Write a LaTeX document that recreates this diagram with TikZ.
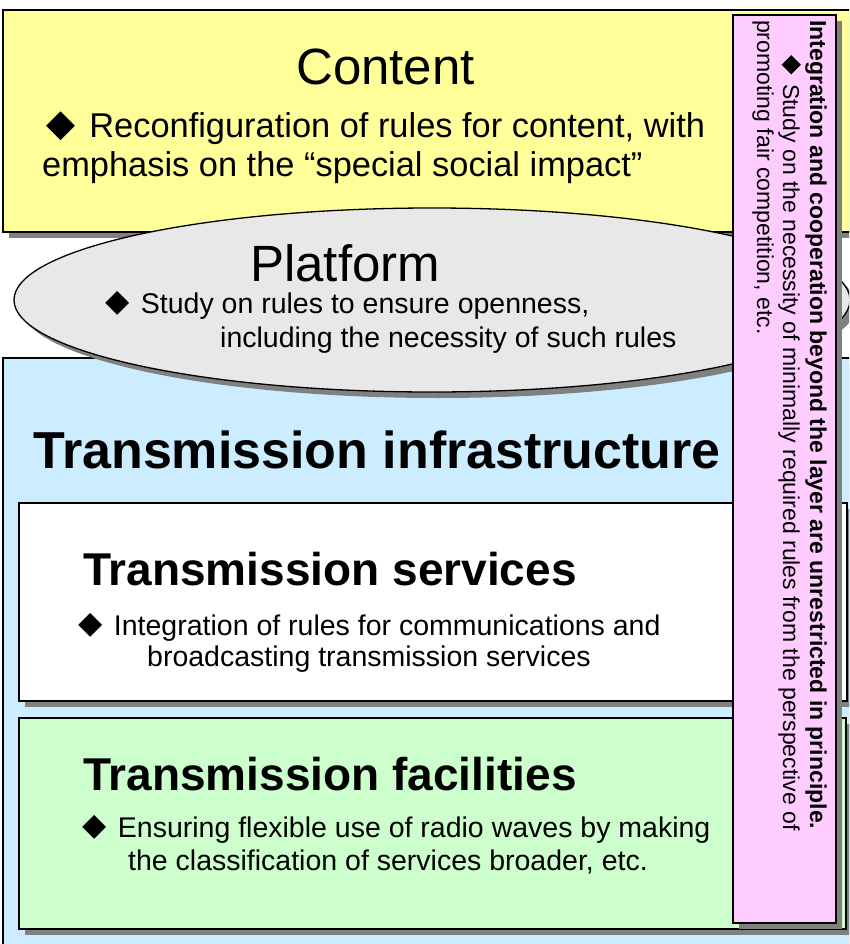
\documentclass[tikz,border=0pt]{standalone}
\usepackage{fontspec}
\setmainfont{Liberation Sans}
\usepackage{tikz}
\usetikzlibrary{shadows}

\definecolor{contentyellow}{HTML}{FFFF99}
\definecolor{platformgray}{HTML}{E8E8E8}
\definecolor{infrablue}{HTML}{CCECFF}
\definecolor{facilgreen}{HTML}{CCFFCC}
\definecolor{layerpink}{HTML}{FFCCFF}
\definecolor{shadowgray}{HTML}{808080}

\newcommand{\dmd}{\raisebox{-0.06em}{\rotatebox{45}{\rule{0.59em}{0.59em}}}\hspace{0.42em}}

\begin{document}
\begin{tikzpicture}[x=1pt,y=-1pt,
            layer/.style={draw,line width=1.3pt,drop shadow={shadow xshift=6pt,shadow yshift=-6pt,fill=shadowgray,opacity=1}},
            title/.style={inner sep=0,anchor=base west,font=\fontsize{51}{58}\selectfont},
            head/.style={title,font=\fontsize{46}{52}\selectfont\bfseries},
            item/.style={inner sep=0,anchor=base west,font=\fontsize{28.5}{33}\selectfont},
            side/.style={inner sep=0,anchor=base west,rotate=-90,font=\fontsize{23}{28}\selectfont}
          ]
          \fill[white] (0,0) rectangle (849,944);
          \path[use as bounding box,clip] (0,0) rectangle (849,944);

          %layers
          \path[layer,fill=contentyellow] (3,10) rectangle (880,232);
          \path[layer,fill=infrablue] (3,358) rectangle (880,990);
          \path[layer,fill=platformgray] (432,300) ellipse [x radius=418,y radius=92];
          \path[layer,fill=white] (19,503) rectangle (847,701);
          \path[layer,fill=facilgreen] (19,718) rectangle (846,929);
          \path[layer,fill=layerpink] (733,15) rectangle (836,923);

          %content
          \node[title] (content) at (296,85) {Content};
          \node[item,font=\fontsize{34.4}{39}\selectfont] (content1) at (46,138) {\dmd Reconfiguration of rules for content, with};
          \node[item,font=\fontsize{34.4}{39}\selectfont] (content2) at (42,177) {emphasis on the “special social impact”};

          %platform
          \node[title] (platform) at (250,281) {Platform};
          \node[item] (platform1) at (105,313) {\dmd Study on rules to ensure openness,};
          \node[item] (platform2) at (220,347) {including the necessity of such rules};

          %transmission
          \node[title,font=\fontsize{52}{58}\selectfont\bfseries] (infra) at (33,468) {Transmission infrastructure};
          \node[head] (services) at (83,585) {Transmission services};
          \node[item] (services1) at (78,635) {\dmd Integration of rules for communications and};
          \node[item] (services2) at (147,666) {broadcasting transmission services};
          \node[head] (facilities) at (83,790) {Transmission facilities};
          \node[item] (facilities1) at (82,837) {\dmd Ensuring flexible use of radio waves by making};
          \node[item] (facilities2) at (128,870) {the classification of services broader, etc.};

          %across the layers
          \node[side,font=\fontsize{23}{28}\selectfont\bfseries] (across) at (810,20) {Integration and cooperation beyond the layer are unrestricted in principle.};
          \node[side] (across1) at (783,55) {\dmd Study on the necessity of minimally required rules from the perspective of};
          \node[side] (across2) at (757,20) {promoting fair competition, etc.};
      \end{tikzpicture}
\end{document}
